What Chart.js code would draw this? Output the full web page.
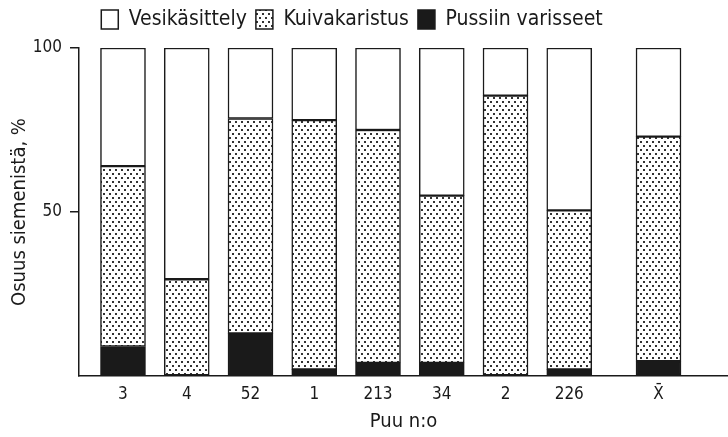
<!DOCTYPE html>
<html>
<head>
<meta charset="utf-8">
<script src="https://cdn.jsdelivr.net/npm/chart.js@4/dist/chart.umd.min.js"></script>
<style>
  html, body { margin: 0; padding: 0; background: #fff; }
  canvas { display: block; }
</style>
</head>
<body>
<canvas id="chart" width="728" height="437"></canvas>
<script>
// Puut ja niiden paikat vaaka-akselilla (keskiarvo erillään)
const trees = ['3', '4', '52', '1', '213', '34', '2', '226', 'X\u0304']
const treePos = [0, 1, 2, 3, 4, 5, 6, 7, 8.4]

// Osuudet siemenistä, %
const pussiin = [9, 0, 13, 2, 4, 4, 0, 2, 4.5]
const kuiva = [55, 29.5, 65.5, 76, 71, 51, 85.5, 48.5, 68.5]
const vesi = [36, 70.5, 21.5, 22, 25, 45, 14.5, 49.5, 27]

const yTicks = [0, 50, 100]

const FONT = '"DejaVu Sans Condensed", "Liberation Sans Narrow", "DejaVu Sans", sans-serif'
const INK = '#1a1a1a'

// pistekuvio kuivakaristukselle: porrastetut pisteet
function dotPattern() {
  const c = document.createElement('canvas')
  c.width = 6
  c.height = 8
  const g = c.getContext('2d')
  g.fillStyle = '#fff'
  g.fillRect(0, 0, 6, 8)
  g.fillStyle = '#333'
  g.fillRect(1, 1, 2, 2)
  g.fillRect(4, 5, 2, 2)
  return g.createPattern(c, 'repeat')
}

const points = (vals) => vals.map((v, i) => ({ x: treePos[i], y: v }))

// legendan korkeus kiinteäksi, jotta kuva-ala alkaa oikeasta kohdasta
const legendHeight = {
  id: 'legendHeight',
  afterInit(chart) {
    const legend = chart.legend
    const fit = legend.fit
    legend.fit = function() {
      fit.call(this)
      this.height = 48
    }
  },
  afterLayout(chart) {
    chart.legend.left -= 12
    chart.legend.right -= 12
  }
}

const common = {
  borderColor: INK,
  // nollan korkuiselle palkille ei reunaviivaa
  borderWidth: (ctx) => ctx.raw && ctx.raw.y === 0 ? 0 : 1.5,
  borderSkipped: false,
  barThickness: 45
}

new Chart(document.getElementById('chart'), {
  type: 'bar',
  data: {
    datasets: [
      { label: 'Pussiin varisseet', data: points(pussiin), backgroundColor: INK, ...common },
      { label: 'Kuivakaristus', data: points(kuiva), backgroundColor: dotPattern(), ...common },
      { label: 'Vesikäsittely', data: points(vesi), backgroundColor: '#fff', ...common }
    ]
  },
  plugins: [legendHeight],
  options: {
    responsive: false,
    animation: false,
    layout: { padding: 0 },
    plugins: {
      legend: {
        display: true,
        position: 'top',
        reverse: true,
        labels: {
          boxWidth: 17,
          boxHeight: 19,
          padding: 9,
          color: INK,
          font: { family: FONT, size: 21 }
        }
      },
      tooltip: { enabled: false }
    },
    scales: {
      x: {
        type: 'linear',
        stacked: true,
        offset: false,
        min: -0.69,
        max: 9.49,
        afterBuildTicks: (scale) => {
          scale.ticks = treePos.map(v => ({ value: v }))
        },
        afterFit: (scale) => { scale.height = 61 },
        grid: { display: false },
        border: { display: true, color: INK, width: 1.5 },
        ticks: {
          autoSkip: false,
          maxRotation: 0,
          padding: 0,
          color: INK,
          font: { family: FONT, size: 17 },
          callback: (value) => trees[treePos.indexOf(value)]
        },
        title: {
          display: true,
          text: 'Puu n:o',
          color: INK,
          padding: { top: 2, bottom: 3 },
          font: { family: FONT, size: 20 }
        }
      },
      y: {
        stacked: true,
        min: 0,
        max: 100,
        afterBuildTicks: (scale) => {
          scale.ticks = yTicks.map(v => ({ value: v }))
        },
        afterFit: (scale) => { scale.width = 79 },
        grid: {
          drawOnChartArea: false,
          tickLength: 9,
          lineWidth: 1.5,
          color: (ctx) => ctx.tick && ctx.tick.value === 0 ? 'rgba(0,0,0,0)' : INK
        },
        border: { display: true, color: INK, width: 1.5 },
        ticks: {
          padding: 8,
          color: INK,
          font: { family: FONT, size: 17 },
          callback: (value) => value === 0 ? '' : value
        },
        title: {
          display: true,
          text: 'Osuus siemenistä, %',
          color: INK,
          padding: { top: 8, bottom: 0 },
          font: { family: FONT, size: 20 }
        }
      }
    }
  }
})
</script>
</body>
</html>
